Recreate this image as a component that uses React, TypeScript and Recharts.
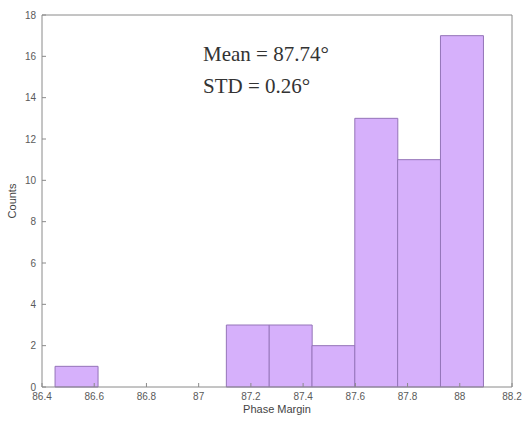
import { Bar, BarChart, XAxis, YAxis, Label } from 'recharts';

const binCenters = [86.532, 86.696, 86.86, 87.024, 87.188, 87.352, 87.516, 87.68, 87.844, 88.008];
const counts = [1, 0, 0, 0, 3, 3, 2, 13, 11, 17];
const xTicks = [86.4, 86.6, 86.8, 87, 87.2, 87.4, 87.6, 87.8, 88, 88.2];
const yTicks = [0, 2, 4, 6, 8, 10, 12, 14, 16, 18];
const statLines = ['Mean = 87.74°', 'STD = 0.26°'];

const data = binCenters.map((c, i) => ({ center: c, count: counts[i] }));

const frame = '#8a8a8a';
const tickText = { fill: '#5a5a5a', fontSize: 10, fontFamily: 'Liberation Sans, Arial, sans-serif' };

export default function App() {
  return (
    <div style={{ position: 'absolute', left: 0, top: 0, width: 523, height: 424, background: '#fff' }}>
      <BarChart
        width={523}
        height={424}
        data={data}
        margin={{ top: 0, right: 0, bottom: 0, left: 0 }}
        barCategoryGap={0}
        barGap={0}
      >
        <XAxis
          xAxisId='bottom'
          dataKey='center'
          type='number'
          domain={[86.4, 88.2]}
          ticks={xTicks}
          allowDataOverflow
          height={37}
          stroke={frame}
          tickSize={-4}
          tickMargin={10}
          tick={tickText}
          tickFormatter={(v: number) => String(Math.round(v * 10) / 10)}
        >
          <Label
            value='Phase Margin'
            position='insideBottom'
            offset={11}
            style={{ fill: '#444', fontSize: 11, fontFamily: 'Liberation Sans, Arial, sans-serif' }}
          />
        </XAxis>
        <XAxis
          xAxisId='top'
          orientation='top'
          dataKey='center'
          type='number'
          domain={[86.4, 88.2]}
          ticks={xTicks}
          allowDataOverflow
          height={15}
          stroke={frame}
          tickSize={-4}
          tick={false}
        />
        <YAxis
          yAxisId='left'
          domain={[0, 18]}
          ticks={yTicks}
          width={42}
          stroke={frame}
          tickSize={-4}
          tickMargin={10}
          tick={tickText}
        >
          <Label
            value='Counts'
            angle={-90}
            position='insideLeft'
            offset={12}
            style={{ fill: '#444', fontSize: 11, fontFamily: 'Liberation Sans, Arial, sans-serif', textAnchor: 'middle' }}
          />
        </YAxis>
        <YAxis
          yAxisId='right'
          orientation='right'
          domain={[0, 18]}
          ticks={yTicks}
          width={11}
          stroke={frame}
          tickSize={-4}
          tick={false}
        />
        <Bar
          xAxisId='bottom'
          yAxisId='left'
          dataKey='count'
          fill='#d6b0fb'
          stroke='#9474b8'
          strokeWidth={1}
          isAnimationActive={false}
        />
      </BarChart>
      {statLines.map((t, i) => (
        <div
          key={t}
          style={{
            position: 'absolute',
            left: 203,
            top: 42 + i * 32,
            fontFamily: 'Liberation Serif, Times New Roman, serif',
            fontSize: 21,
            lineHeight: '24px',
            color: '#333',
            whiteSpace: 'nowrap',
          }}
        >
          {t}
        </div>
      ))}
    </div>
  );
}
